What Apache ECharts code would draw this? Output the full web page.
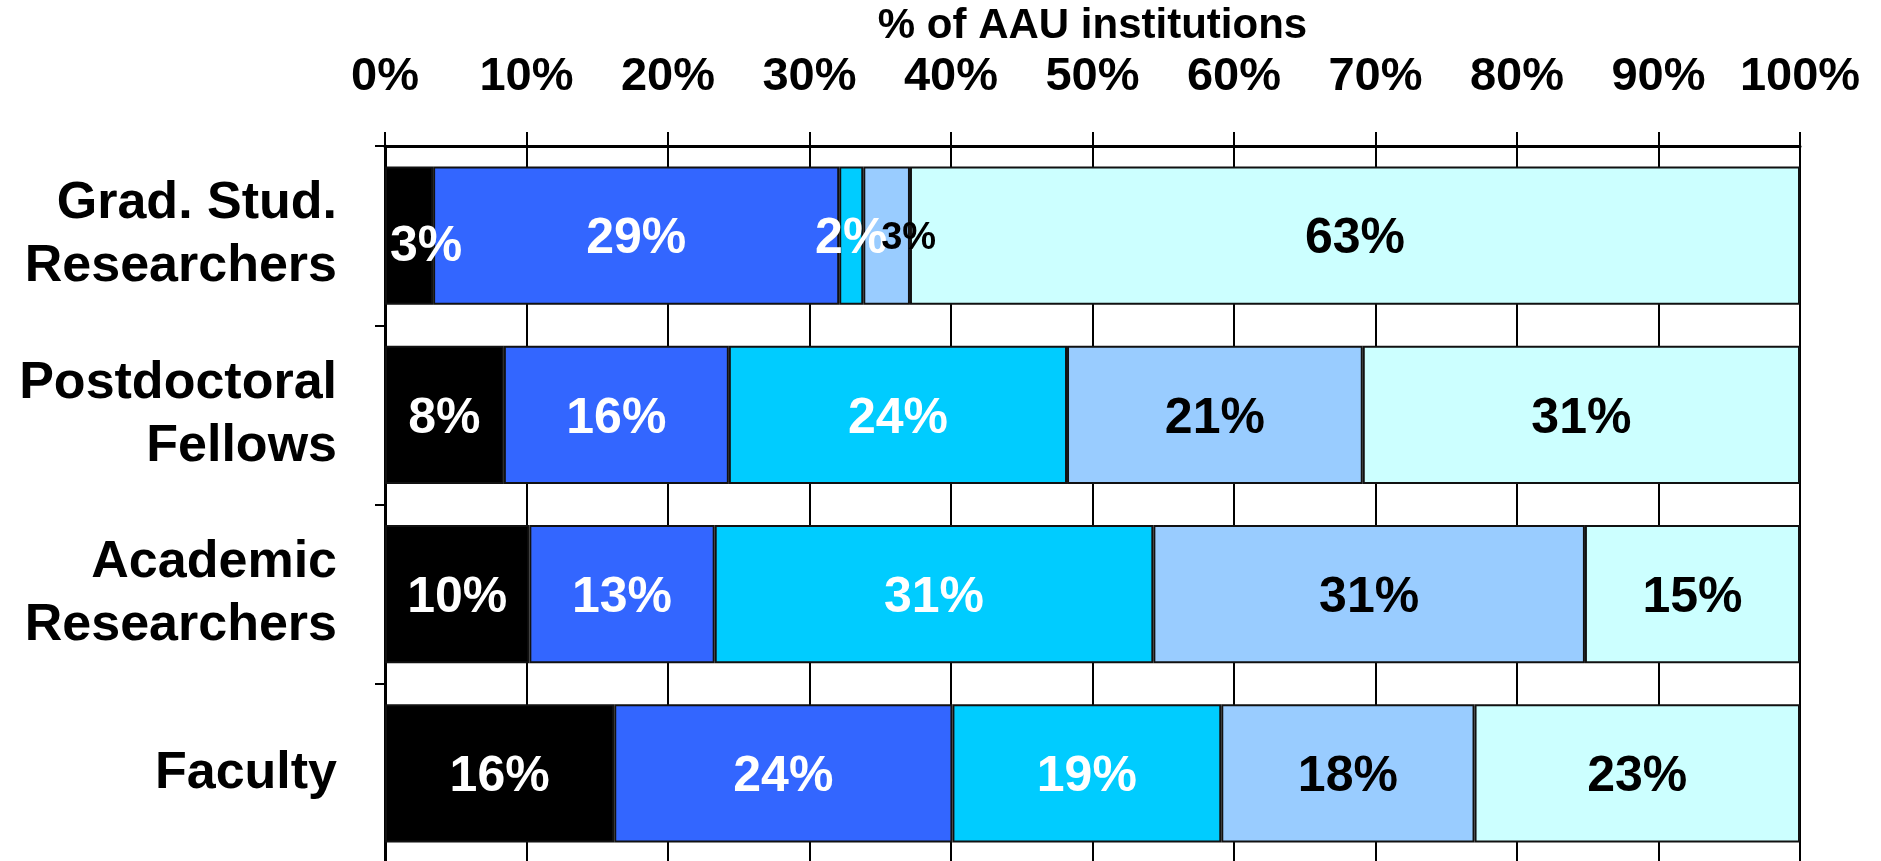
<!DOCTYPE html>
<html>
<head>
<meta charset="utf-8">
<title>% of AAU institutions</title>
<script src="https://cdn.jsdelivr.net/npm/echarts@6/dist/echarts.min.js"></script>
<style>
  html, body { margin: 0; padding: 0; background: #fff; }
  #chart { width: 1881px; height: 861px; }
</style>
</head>
<body>
<div id="chart"></div>
<script>
  // rows, top to bottom
  const categories = ['Grad. Stud.\nResearchers', 'Postdoctoral\nFellows', 'Academic\nResearchers', 'Faculty'];

  // share of AAU institutions per segment (%), left to right
  const seg1 = [3.4, 8.4, 10.2, 16.2];
  const seg2 = [28.7, 15.9, 13.1, 23.9];
  const seg3 = [1.7, 23.9, 31.0, 19.0];
  const seg4 = [3.3, 20.9, 30.5, 17.9];
  const seg5 = [62.9, 30.9, 15.2, 23.0];

  const xTicks = [0, 10, 20, 30, 40, 50, 60, 70, 80, 90, 100];

  const segments = [seg1, seg2, seg3, seg4, seg5];
  const colors = ['#000000', '#3366ff', '#00ccff', '#99ccff', '#ccffff'];
  const labelColors = ['#ffffff', '#ffffff', '#ffffff', '#000000', '#000000'];
  const FONT = '"Liberation Sans", Arial, sans-serif';

  // the tiny segments in the first row have their labels nudged like the original
  const labelTweaks = {
    '0-0': { offset: [17, 12] },
    '3-0': { offset: [22, 3], fontSize: 38 }
  };

  const chart = echarts.init(document.getElementById('chart'), null, { renderer: 'canvas' });

  const series = segments.map((vals, s) => ({
    name: 'segment ' + (s + 1),
    type: 'bar',
    stack: 'total',
    barWidth: '77%',
    itemStyle: { color: colors[s], borderColor: '#111', borderWidth: 2 },
    label: {
      show: true,
      position: 'inside',
      offset: [0, 4],
      color: labelColors[s],
      fontFamily: FONT,
      fontWeight: 'bold',
      fontSize: 50,
      formatter: p => Math.round(p.value) + '%'
    },
    data: vals.map((v, i) => {
      const t = labelTweaks[s + '-' + i];
      return t ? { value: v, label: t } : v;
    })
  }));

  const option = {
    animation: false,
    grid: { left: 385, right: 81, top: 146, bottom: -2, containLabel: false, outerBoundsMode: 'none' },
    xAxis: {
      type: 'value',
      position: 'top',
      min: xTicks[0],
      max: xTicks[xTicks.length - 1],
      interval: xTicks[1] - xTicks[0],
      name: '% of AAU institutions',
      nameLocation: 'middle',
      nameGap: 99,
      nameTextStyle: { fontFamily: FONT, fontWeight: 'bold', fontSize: 42, color: '#000' },
      axisLine: { show: true, lineStyle: { color: '#000', width: 3 } },
      axisTick: { show: true, length: 14, lineStyle: { color: '#000', width: 2 } },
      splitLine: { show: true, lineStyle: { color: '#000', width: 2 } },
      axisLabel: {
        formatter: '{value}%',
        fontFamily: FONT,
        fontWeight: 'bold',
        fontSize: 47,
        color: '#000',
        margin: 45
      }
    },
    yAxis: {
      type: 'category',
      inverse: true,
      data: categories,
      axisLine: { show: true, lineStyle: { color: '#000', width: 3 } },
      axisTick: { show: true, length: 10, lineStyle: { color: '#000', width: 2 } },
      axisLabel: {
        fontFamily: FONT,
        fontWeight: 'bold',
        fontSize: 52,
        lineHeight: 63,
        color: '#000',
        align: 'right',
        margin: 48
      }
    },
    series: series
  };

  chart.setOption(option);
</script>
</body>
</html>
